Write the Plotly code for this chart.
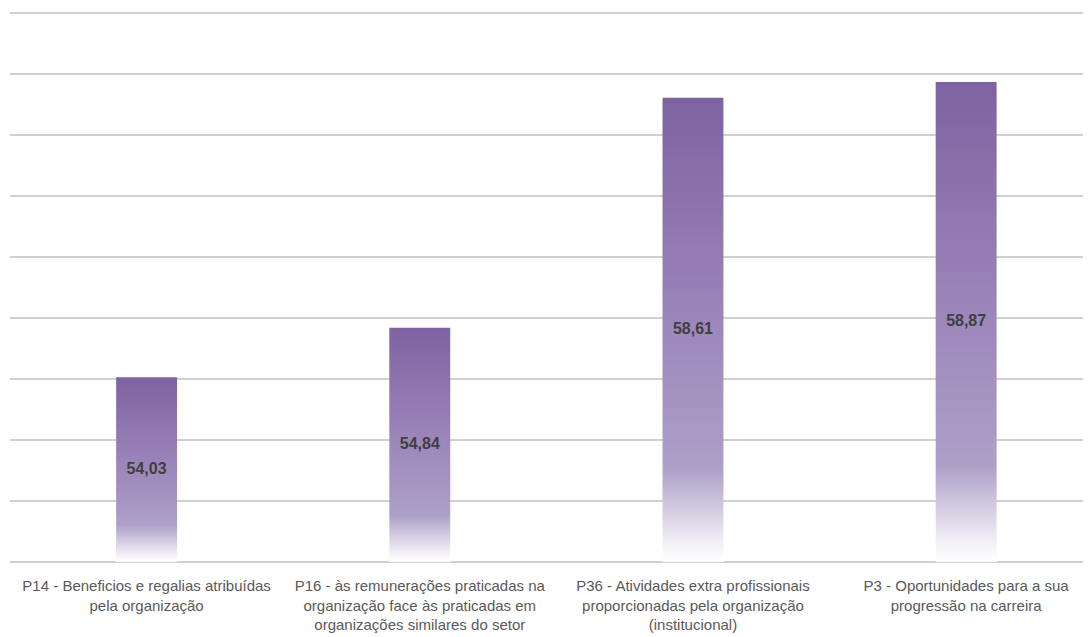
import plotly.graph_objects as go

categories = [
    "P14 - Beneficios e regalias atribuídas<br>pela organização",
    "P16 - às remunerações praticadas na<br>organização face às praticadas em<br>organizações similares do setor",
    "P36 - Atividades extra profissionais<br>proporcionadas pela organização<br>(institucional)",
    "P3 - Oportunidades para a sua<br>progressão na carreira",
]
values = [54.03, 54.84, 58.61, 58.87]
labels = ["54,03", "54,84", "58,61", "58,87"]

y_min, y_max = 51, 60
pad = 0.05
half_w = 0.1115
FONT = "Liberation Sans Narrow, Arial Narrow, Liberation Sans, Arial"

fig = go.Figure()
for i, v in enumerate(values):
    fig.add_trace(go.Scatter(
        x=[i - half_w, i - half_w, i + half_w, i + half_w, i - half_w],
        y=[y_min, v, v, y_min, y_min],
        mode="lines", line=dict(width=0), fill="toself",
        fillgradient=dict(
            type="vertical",
            colorscale=[[0, "#FFFFFF"], [0.04, "#F3F0F7"], [0.2, "#ADA0C8"],
                        [0.45, "#A08BBE"], [1, "#7F62A1"]],
        ),
        hoverinfo="skip", showlegend=False,
    ))

fig.add_trace(go.Scatter(
    x=list(range(len(values))),
    y=[(v + y_min) / 2 for v in values],
    mode="text", text=labels,
    textfont=dict(family=FONT, size=16, color="#404040", weight="bold"),
    hoverinfo="skip", showlegend=False,
))

fig.update_layout(
    width=1091, height=637,
    margin=dict(l=2, r=8, t=2, b=80),
    paper_bgcolor="white", plot_bgcolor="white",
    xaxis=dict(
        range=[-0.5, 3.457], tickmode="array", automargin=False,
        tickvals=list(range(len(categories))), ticktext=categories,
        showgrid=False, zeroline=False, showline=False,
        tickfont=dict(family=FONT, size=15, color="#595959"),
        ticks="", ticklabelstandoff=10,
    ),
    yaxis=dict(
        range=[y_min - pad, y_max + pad], dtick=1, tick0=y_min, automargin=False,
        showgrid=True, gridcolor="#D0D0D0", gridwidth=2,
        zeroline=False, showline=False, showticklabels=False, ticks="",
    ),
)

fig.write_html("out.html")
